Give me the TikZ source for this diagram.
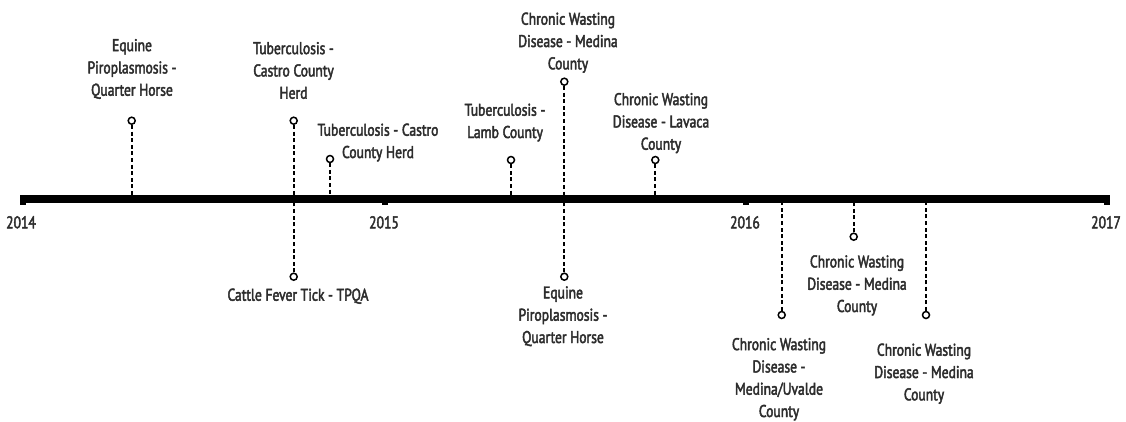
\documentclass[tikz,border=0pt]{standalone}
\usepackage{fontspec}
\setmainfont{PT Sans}[FakeStretch=0.8,FakeBold=2.6]
\begin{document}
\begin{tikzpicture}[x=1pt,y=-1pt,
  ink/.style={text={rgb,255:red,45;green,45;blue,45}},
  evlabel/.style={ink,font=\fontsize{17}{22.3}\selectfont,align=center,anchor=base,inner sep=0pt},
  yearlabel/.style={ink,font=\fontsize{17}{20}\selectfont,anchor=base,inner sep=0pt},
  marker/.style={circle,draw=black,fill=white,line width=1.5pt,minimum size=7pt,inner sep=0pt},
  stem/.style={black,line width=1.8pt,dash pattern=on 4pt off 2.6pt},
  axisline/.style={black,line width=7.5pt},
  tick/.style={black,line width=6pt}]
\useasboundingbox (0,0) rectangle (1126,421);

% axis anchors
\coordinate (axL) at (20,199);
\coordinate (axR) at (1110,199);

% stem feet on the axis
\coordinate (a1) at (131.7,199);
\coordinate (a2) at (293.7,199);
\coordinate (a3) at (330,199);
\coordinate (a5) at (511,199);
\coordinate (a6) at (564.3,199);
\coordinate (a8) at (655.3,199);
\coordinate (a9) at (781.7,199);
\coordinate (a10) at (853.7,199);
\coordinate (a11) at (926,199);

\node[marker] (m1) at (131.7,120.7) {};
\node[marker] (m2) at (293.7,120.7) {};
\node[marker] (m3) at (330,159) {};
\node[marker] (m4) at (293.7,276.7) {};
\node[marker] (m5) at (511,160) {};
\node[marker] (m6) at (564.3,81.7) {};
\node[marker] (m7) at (564.3,276.7) {};
\node[marker] (m8) at (655.3,160) {};
\node[marker] (m9) at (781.7,315) {};
\node[marker] (m10) at (853.7,236.7) {};
\node[marker] (m11) at (926,315) {};

% event stems (drawn before the axis so it covers them)
\draw[stem] (m1) -- (a1);
\draw[stem] (m2) -- (a2);
\draw[stem] (m3) -- (a3);
\draw[stem] (m4) -- (a2);
\draw[stem] (m5) -- (a5);
\draw[stem] (m6) -- (a6);
\draw[stem] (m7) -- (a6);
\draw[stem] (m8) -- (a8);
\draw[stem] (m9) -- (a9);
\draw[stem] (m10) -- (a10);
\draw[stem] (m11) -- (a11);

% main axis and year ticks
\draw[axisline] (axL) -- (axR);
\coordinate (t14) at (23,199);
\coordinate (t15) at (385,199);
\coordinate (t16) at (746,199);
\coordinate (t17) at (1107,199);
\foreach \t in {t14,t15,t16,t17}
  \draw[tick] (\t) -- ++(0,5.5);

\node[yearlabel] (y14) at (21,228.3) {2014};
\node[yearlabel] (y15) at (384,228.3) {2015};
\node[yearlabel] (y16) at (745,228.3) {2016};
\node[yearlabel] (y17) at (1106,228.3) {2017};

% event labels (anchored at the baseline of their last line)
\node[evlabel] (l1) at (132,95.7) {Equine\\Piroplasmosis -\\Quarter Horse};
\node[evlabel] (l2) at (293.5,98.7) {Tuberculosis -\\Castro County\\Herd};
\node[evlabel] (l3) at (378,158) {Tuberculosis - Castro\\County Herd};
\node[evlabel] (l4) at (298,300.7) {Cattle Fever Tick - TPQA};
\node[evlabel] (l5) at (505,138) {Tuberculosis -\\Lamb County};
\node[evlabel] (l6) at (568,69.3) {Chronic Wasting\\Disease - Medina\\County};
\node[evlabel] (l7) at (563,343) {Equine\\Piroplasmosis -\\Quarter Horse};
\node[evlabel] (l8) at (661,149.7) {Chronic Wasting\\Disease - Lavaca\\County};
\node[evlabel] (l9) at (779,417) {Chronic Wasting\\Disease -\\Medina/Uvalde\\County};
\node[evlabel] (l10) at (857,312) {Chronic Wasting\\Disease - Medina\\County};
\node[evlabel] (l11) at (924,400.3) {Chronic Wasting\\Disease - Medina\\County};
\end{tikzpicture}
\end{document}
